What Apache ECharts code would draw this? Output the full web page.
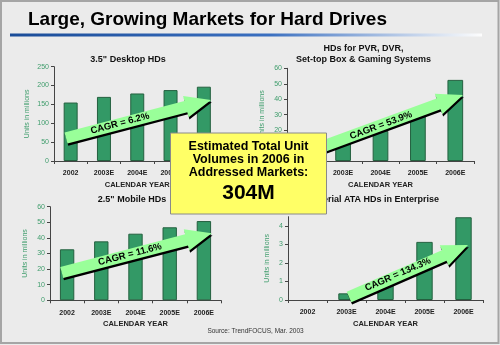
<!DOCTYPE html>
<html>
<head>
<meta charset="utf-8">
<script src="https://cdn.jsdelivr.net/npm/echarts@6/dist/echarts.min.js"></script>
<style>
html,body{margin:0;padding:0;background:#ebebeb;}
#c{width:500px;height:345px;}
</style>
</head>
<body>
<div id="c"></div>
<script>
// ---- data ----
const categories = ['2002', '2003E', '2004E', '2005E', '2006E'];
const desktopHDs = [155, 170, 179, 188, 197];
const pvrHDs = [9, 12, 19.5, 29, 52.5];
const mobileHDs = [32.7, 37.8, 42.7, 46.8, 50.8];
const sataHDs = [null, 0.36, 1.0, 3.14, 4.47];
const chartTitles = ['3.5" Desktop HDs', 'HDs for PVR, DVR,\nSet-top Box & Gaming Systems', '2.5" Mobile HDs', 'Serial ATA HDs in Enterprise'];
const cagrLabels = ['CAGR = 6.2%', 'CAGR = 53.9%', 'CAGR = 11.6%', 'CAGR = 134.3%'];
const mainTitle = 'Large, Growing Markets for Hard Drives';
const boxLines = ['Estimated Total Unit', 'Volumes in 2006 in', 'Addressed Markets:'];
const boxTotal = '304M';
const sourceText = 'Source: TrendFOCUS, Mar. 2003';
const yName = 'Units in millions';
const xName = 'CALENDAR YEAR';

const GREEN = '#3f9d6c';
const BAR = '#339966';
const chart = echarts.init(document.getElementById('c'), null, {renderer: 'canvas'});

const grids = [
  {left: 54, top: 66.7, width: 166.5, height: 94.3},
  {left: 287, top: 68.3, width: 187, height: 92.7},
  {left: 50, top: 206.7, width: 171, height: 93.6},
  {left: 288, top: 216.7, width: 195, height: 83.3}
];
const yCfg = [
  {min: 0, max: 250, interval: 50, gap: 23},
  {min: 0, max: 60, interval: 10, gap: 21},
  {min: 0, max: 60, interval: 10, gap: 21},
  {min: 0, max: 4.5, interval: 1, gap: 17}
];
const seriesData = [desktopHDs, pvrHDs, mobileHDs, sataHDs];

const xAxes = grids.map((g, i) => ({
  type: 'category', gridIndex: i, data: categories,
  name: xName, nameLocation: 'middle', nameGap: 20,
  nameTextStyle: {fontSize: 7.5, fontWeight: 'bold', color: '#222', fontFamily: 'Liberation Sans'},
  axisLine: {lineStyle: {color: '#444', width: 1}},
  axisTick: {show: true, length: 3, lineStyle: {color: '#444'}},
  axisLabel: {fontSize: 7, fontWeight: 'bold', color: '#222', margin: 9, fontFamily: 'Liberation Sans'}
}));
const yAxes = grids.map((g, i) => ({
  type: 'value', gridIndex: i, min: yCfg[i].min, max: yCfg[i].max, interval: yCfg[i].interval,
  name: yName, nameLocation: 'middle', nameGap: yCfg[i].gap, nameRotate: 90,
  nameTextStyle: {fontSize: 7, color: GREEN, fontFamily: 'Liberation Sans'},
  axisLine: {show: true, lineStyle: {color: '#444', width: 1}},
  axisTick: {show: true, length: 3, lineStyle: {color: '#444'}},
  splitLine: {show: false},
  axisLabel: {fontSize: 7, color: GREEN, margin: 5, fontFamily: 'Liberation Sans', showMaxLabel: i !== 3}
}));
const series = seriesData.map((d, i) => ({
  type: 'bar', xAxisIndex: i, yAxisIndex: i, data: d, barWidth: '42%',
  itemStyle: {color: BAR, borderColor: '#24603f', borderWidth: 1},
  silent: true, animation: false
}));

function arrowPts(x0, y0, x1, y1, sw, hw, hl) {
  const dx = x1 - x0, dy = y1 - y0, L = Math.hypot(dx, dy);
  const ux = dx / L, uy = dy / L, nx = -uy, ny = ux;
  const bx = x1 - ux * hl, by = y1 - uy * hl;
  return [
    [x0 + nx * sw / 2, y0 + ny * sw / 2], [bx + nx * sw / 2, by + ny * sw / 2],
    [bx + nx * hw / 2, by + ny * hw / 2], [x1, y1],
    [bx - nx * hw / 2, by - ny * hw / 2], [bx - nx * sw / 2, by - ny * sw / 2],
    [x0 - nx * sw / 2, y0 - ny * sw / 2]
  ];
}
// annotation arrows (decoration): tail, tip, label centre
const arrows = [
  {t: [66, 138], h: [211, 100], c: [120, 123.5]},
  {t: [305, 153], h: [463, 95], c: [381, 125.5]},
  {t: [61.7, 272.5], h: [211.7, 233.3], c: [130, 254.5]},
  {t: [349, 297], h: [468, 245], c: [398, 274.5]}
];
const graphics = [];
arrows.forEach((a, i) => {
  const ang = Math.atan2(a.t[1] - a.h[1], a.h[0] - a.t[0]);
  graphics.push({
    type: 'polygon', z: 50,
    shape: {points: arrowPts(a.t[0], a.t[1], a.h[0], a.h[1], 11.5, 22, 26)},
    style: {fill: '#99ff99', stroke: null, shadowColor: '#000', shadowOffsetX: 0.8, shadowOffsetY: 2.2, shadowBlur: 0}
  });
  graphics.push({
    type: 'text', z: 51, x: a.c[0], y: a.c[1], rotation: ang,
    style: {x: 0, y: 0, text: cagrLabels[i], align: 'center', verticalAlign: 'middle',
      textAlign: 'center', textVerticalAlign: 'middle',
      font: 'bold 9.5px "Liberation Sans"', fill: '#000'}
  });
});
// chart titles
const titlePos = [[128, 59.5], [363.5, 54], [132, 200], [378, 200]];
chartTitles.forEach((t, i) => {
  graphics.push({
    type: 'text', z: 10, x: titlePos[i][0], y: titlePos[i][1],
    style: {text: t, align: 'center', verticalAlign: 'middle', textAlign: 'center', textVerticalAlign: 'middle',
      font: 'bold 9px "Liberation Sans"', fill: '#111', lineHeight: 11}
  });
});
// main title + underline
graphics.push({
  type: 'text', z: 10, x: 28, y: 20,
  style: {text: mainTitle, align: 'left', verticalAlign: 'middle', textAlign: 'left', textVerticalAlign: 'middle',
    font: 'bold 19px "Liberation Sans"', fill: '#000'}
});
graphics.push({
  type: 'rect', z: 10, shape: {x: 10, y: 33.5, width: 472, height: 3},
  style: {fill: new echarts.graphic.LinearGradient(0, 0, 1, 0, [
    {offset: 0, color: '#1a4c98'}, {offset: 0.55, color: '#3a6fc0'}, {offset: 1, color: 'rgba(255,255,255,0.9)'}])}
});
// source
graphics.push({
  type: 'text', z: 10, x: 255.5, y: 331.5,
  style: {text: sourceText, align: 'center', verticalAlign: 'middle', textAlign: 'center', textVerticalAlign: 'middle',
    font: '6.5px "Liberation Sans"', fill: '#333'}
});
// yellow callout box
graphics.push({
  type: 'rect', z: 100, shape: {x: 170.5, y: 133, width: 156, height: 81},
  style: {fill: '#ffff66', stroke: '#8a8a8a', lineWidth: 1}
});
boxLines.forEach((l, i) => {
  graphics.push({
    type: 'text', z: 101, x: 248.5, y: 147 + i * 13,
    style: {text: l, align: 'center', verticalAlign: 'middle', textAlign: 'center', textVerticalAlign: 'middle',
      font: 'bold 12.5px "Liberation Sans"', fill: '#000'}
  });
});
graphics.push({
  type: 'text', z: 101, x: 248.5, y: 193,
  style: {text: boxTotal, align: 'center', verticalAlign: 'middle', textAlign: 'center', textVerticalAlign: 'middle',
    font: 'bold 21px "Liberation Sans"', fill: '#000'}
});
// slide border
graphics.push({
  type: 'rect', z: 200, shape: {x: 1, y: 1, width: 497.5, height: 342},
  style: {fill: null, stroke: '#a5a5a5', lineWidth: 2}
});

chart.setOption({
  backgroundColor: '#ebebeb',
  animation: false,
  grid: grids,
  xAxis: xAxes,
  yAxis: yAxes,
  series: series,
  graphic: {elements: graphics}
});
</script>
</body>
</html>
